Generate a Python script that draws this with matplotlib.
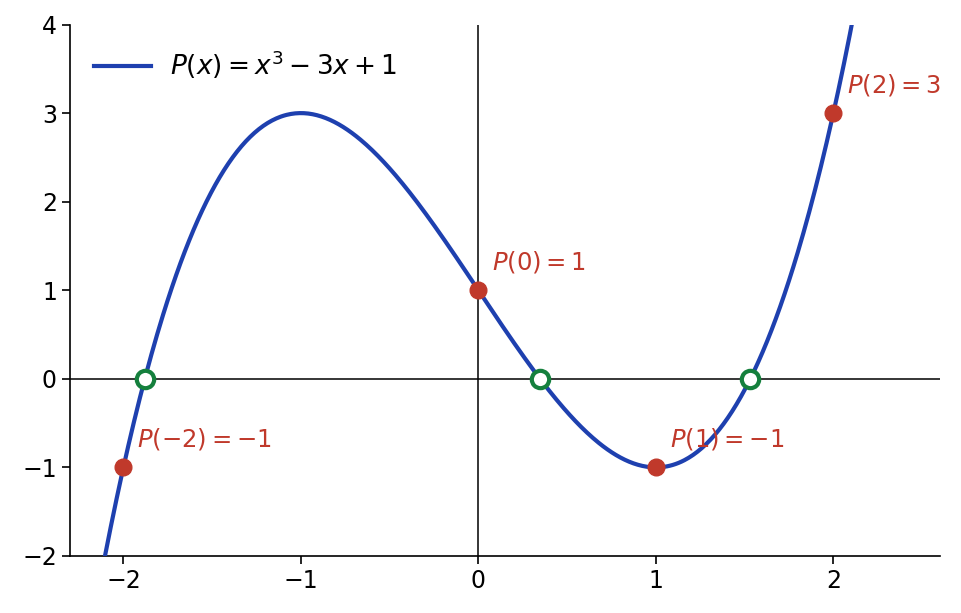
import numpy as np
import matplotlib.pyplot as plt

# polynomial P(x) = x^3 - 3x + 1
coeffs = [1, 0, -3, 1]
sample_x = [-2, 0, 1, 2]
roots = [-1.8794, 0.3473, 1.5321]

blue = "#1e40af"
red = "#c0392b"
green = "#15803d"

fig, ax = plt.subplots(figsize=(9.61, 6.13), dpi=100)
fig.subplots_adjust(left=0.073, right=0.978, top=0.96, bottom=0.093)

x = np.linspace(-2.3, 2.6, 600)
y = np.polyval(coeffs, x)
ax.plot(x, y, color=blue, lw=3, label=r"$P(x) = x^3 - 3x + 1$", zorder=3)

ax.axhline(0, color="black", lw=1.1, zorder=1)
ax.axvline(0, color="black", lw=1.1, zorder=1)

for xv in sample_x:
    yv = np.polyval(coeffs, xv)
    ax.plot(xv, yv, "o", color=red, ms=12, zorder=4)
    ax.annotate(f"$P({xv}) = {int(yv)}$", (xv, yv), textcoords="offset points",
                xytext=(10, 15), color=red, fontsize=17.5, zorder=5)

ax.plot(roots, [0] * len(roots), "o", mfc="white", mec=green, mew=3, ms=12.5, zorder=5)

ax.set_xlim(-2.3, 2.6)
ax.set_ylim(-2, 4)
ax.set_xticks([-2, -1, 0, 1, 2])
ax.set_yticks([-2, -1, 0, 1, 2, 3, 4])
ax.tick_params(labelsize=17, length=6, width=1.2)
for s in ["top", "right"]:
    ax.spines[s].set_visible(False)
for s in ["left", "bottom"]:
    ax.spines[s].set_linewidth(1.2)

ax.legend(loc="upper left", frameon=False, fontsize=19, handlelength=2.15,
          handletextpad=0.75)

fig.savefig("out.png")
